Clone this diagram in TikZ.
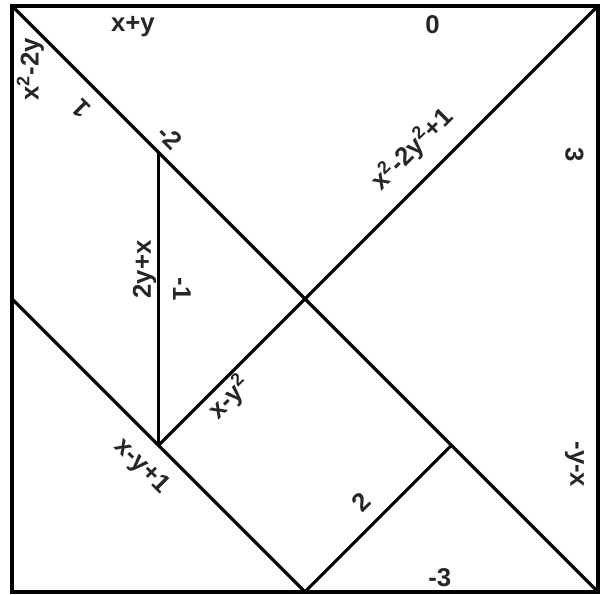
\documentclass[tikz,border=0pt]{standalone}
\usepackage{fontspec}
\setmainfont{Liberation Sans}
\begin{document}
\begin{tikzpicture}[line width=1.2pt, every node/.style={font=\fontsize{10}{12}\selectfont\bfseries, text=black!85, inner sep=1pt}]
  \useasboundingbox (-0.164,-0.03) rectangle (8.055,8.08);

  % Esquinas del cuadrado
  \coordinate (tl) at (0,8);
  \coordinate (tr) at (8,8);
  \coordinate (br) at (8,0);
  \coordinate (bl) at (0,0);

  % Vertices interiores
  \coordinate (c) at (4,4);
  \coordinate (p1) at (2,6);
  \coordinate (p2) at (2,2);
  \coordinate (l4) at (0,4);
  \coordinate (b4) at (4,0);
  \coordinate (q) at (6,2);

  % Piezas
  \draw[line width=1.5pt] (tl) -- (tr) -- (br) -- (bl) -- cycle;
  \draw (tl) -- (br);
  \draw (tr) -- (c);
  \draw (p1) -- (p2);
  \draw (p2) -- (c);
  \draw (l4) -- (b4);
  \draw (q) -- (b4);

  % Etiquetas
  \node (e1) at (1.65,7.72) {x+y};
  \node (e2) at (5.74,7.74) {0};
  \node[rotate=90] (e3) at (0.25,7.13) {x\textsuperscript{2}-2y};
  \node[rotate=135] (e4) at (0.95,6.6) {1};
  \node[rotate=-45] (e5) at (2.16,6.21) {-2};
  \node[rotate=45] (e6) at (5.46,6.04) {x\textsuperscript{2}-2y\textsuperscript{2}+1};
  \node[rotate=-90] (e7) at (7.68,5.97) {3};
  \node[rotate=90] (e8) at (1.81,4.4) {2y+x};
  \node[rotate=-90] (e9) at (2.32,4.13) {-1};
  \node[rotate=45] (e10) at (2.97,2.65) {x-y\textsuperscript{2}};
  \node[rotate=-45] (e11) at (1.77,1.71) {x-y+1};
  \node[rotate=45] (e12) at (4.77,1.22) {2};
  \node[rotate=-90] (e13) at (7.68,1.74) {-y-x};
  \node (e14) at (5.84,0.2) {-3};
\end{tikzpicture}
\end{document}
